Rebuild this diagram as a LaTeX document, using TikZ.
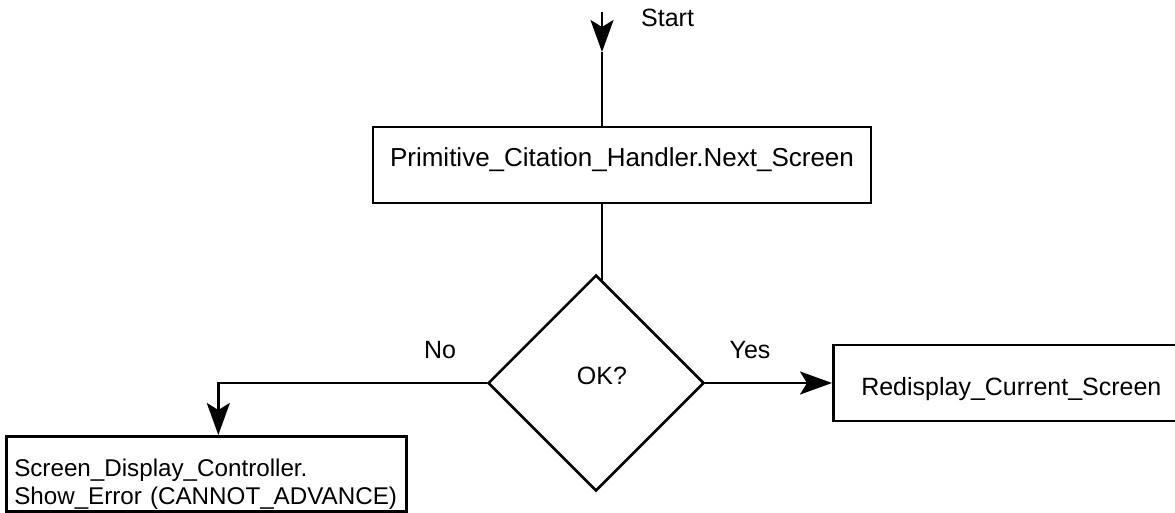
\documentclass[tikz,border=0pt]{standalone}
\usepackage{fontspec}
\setmainfont{Liberation Sans}
\usetikzlibrary{arrows.meta,shapes.geometric,calc}

\tikzset{
  flowline/.style={line width=2.5pt, line cap=butt},
  arr/.style={flowline, -{Stealth[length=32pt, width=23pt, inset=7pt]}},
  procbox/.style={draw, line width=2.5pt, rectangle, inner ysep=0pt},
  decision/.style={draw, line width=2.5pt, diamond, inner sep=0pt,
    minimum width=216pt, minimum height=216pt},
  lbl/.style={anchor=base, inner sep=0pt},
}

\begin{document}
\begin{tikzpicture}[x=1pt, y=-1pt, font=\fontsize{25}{28}\selectfont]
  % canvas
  \clip (0,0) rectangle (1175,512);
  \fill[white] (0,0) rectangle (1175,512);

  % entry point
  \coordinate (s0) at (602,12);
  \coordinate (s1) at (602,52);
  \node[lbl, anchor=base west] (startlbl) at (641,26) {Start};

  % call box
  \node[procbox, minimum width=498pt, minimum height=76pt,
        font=\fontsize{26}{28}\selectfont,
        text height=14pt, text depth=12pt] (pch) at (622,165)
        {Primitive\_Citation\_Handler.Next\_Screen};

  % decision
  \node[decision] (dia) at (596,383) {};
  \node[lbl] (ok) at (602,384) {OK?};

  % outcomes
  \node[procbox, anchor=west, minimum height=76pt, inner xsep=28pt,
        text height=26pt, text depth=2pt] (red) at (832,383)
        {Redisplay\_Current\_Screen};
  \node[procbox, anchor=north west, minimum height=75pt,
        font=\fontsize{24.2}{28}\selectfont,
        align=left, text width=384pt, inner xsep=8pt,
        text height=20pt, text depth=15pt] (err) at (5,435)
        {Screen\_Display\_Controller.\\Show\_Error (CANNOT\_ADVANCE)};

  \node[lbl] (nolbl) at (440,358) {No};
  \node[lbl] (yeslbl) at (750,358) {Yes};

  % connectors
  \draw[arr] (s0) -- (s1);
  \draw[flowline] (s1) -- (pch.north -| s1);
  \draw[flowline] (pch.south -| s0) -- ($(dia.north)+(6,6)$);
  \draw[arr] (dia.east) -- (red.west);
  \draw[arr] (dia.west) -| ($(err.north west)!0.53!(err.north east)$);
\end{tikzpicture}
\end{document}
